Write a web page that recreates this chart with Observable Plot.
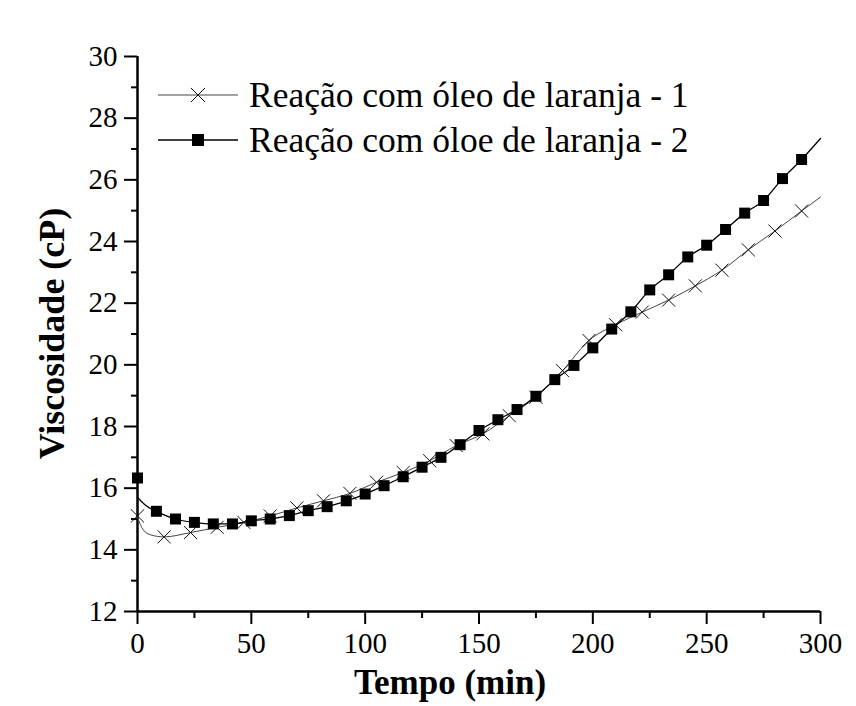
<!DOCTYPE html>
<html>
<head>
<meta charset="utf-8">
<script src="https://cdn.jsdelivr.net/npm/d3@7"></script>
<script src="https://cdn.jsdelivr.net/npm/@observablehq/plot@0.6"></script>
<style>
  html, body { margin: 0; padding: 0; background: #fff; }
  #wrap { position: relative; width: 856px; height: 706px; font-family: "Liberation Serif", "Times New Roman", serif; }
  #wrap svg, #wrap svg text { font-family: "Liberation Serif", "Times New Roman", serif !important; }
  #legend { position: absolute; left: 0; top: 0; pointer-events: none; }
</style>
</head>
<body>
<div id="wrap"></div>
<script>
// Series 1: "Reação com óleo de laranja - 1" (cross markers)
const s1Time = [0, 11.7, 23.3, 35, 46.7, 58.3, 70, 81.7, 93.3, 105, 116.7, 128.3, 140, 151.7, 163.3, 175, 186.7, 198.3, 210, 221.7, 233.3, 245, 256.7, 268.3, 280, 291.7];
const s1Visc = [15.1, 14.42, 14.56, 14.73, 14.89, 15.1, 15.36, 15.59, 15.83, 16.19, 16.51, 16.89, 17.38, 17.76, 18.35, 18.95, 19.81, 20.79, 21.3, 21.71, 22.1, 22.56, 23.07, 23.73, 24.34, 24.99];
// extra points of the series-1 curve (start dip and end)
const s1CurveTime = [0, 2.5, 6, 300];
const s1CurveVisc = [15.05, 14.65, 14.48, 25.44];

// Series 2: "Reação com óloe de laranja - 2" (square markers)
const s2Time = [0, 8.3, 16.7, 25, 33.3, 41.7, 50, 58.3, 66.7, 75, 83.3, 91.7, 100, 108.3, 116.7, 125, 133.3, 141.7, 150, 158.3, 166.7, 175, 183.3, 191.7, 200, 208.3, 216.7, 225, 233.3, 241.7, 250, 258.3, 266.7, 275, 283.3, 291.7];
const s2Visc = [16.33, 15.25, 15.0, 14.89, 14.84, 14.84, 14.94, 15.0, 15.11, 15.27, 15.4, 15.59, 15.81, 16.08, 16.37, 16.68, 17.0, 17.41, 17.87, 18.22, 18.55, 18.98, 19.52, 19.98, 20.55, 21.16, 21.72, 22.43, 22.92, 23.5, 23.88, 24.39, 24.92, 25.33, 26.04, 26.66];
// series-2 curve start and end (curve does not pass through first marker)
const s2CurveTime = [0, 4, 300];
const s2CurveVisc = [15.7, 15.42, 27.34];

const seriesNames = ["Reação com óleo de laranja - 1", "Reação com óloe de laranja - 2"];
const xTicks = [0, 50, 100, 150, 200, 250, 300];
const xMinor = [25, 75, 125, 175, 225, 275];
const yTicks = [12, 14, 16, 18, 20, 22, 24, 26, 28, 30];
const yMinor = [13, 15, 17, 19, 21, 23, 25, 27, 29];
const xLabel = "Tempo (min)";
const yLabel = "Viscosidade (cP)";

const m1 = s1Time.map((t, i) => ({t, v: s1Visc[i]}));
const m2 = s2Time.map((t, i) => ({t, v: s2Visc[i]}));
const c1 = m1.slice(1)
  .concat(s1CurveTime.map((t, i) => ({t, v: s1CurveVisc[i]})))
  .sort((a, b) => a.t - b.t);
const c2 = [{t: s2CurveTime[0], v: s2CurveVisc[0]}, {t: s2CurveTime[1], v: s2CurveVisc[1]}]
  .concat(m2.slice(1))
  .concat([{t: s2CurveTime[2], v: s2CurveVisc[2]}]);

const font = "Liberation Serif";

const plot = Plot.plot({
  width: 856,
  height: 706,
  marginLeft: 137,
  marginRight: 36,
  marginTop: 56,
  marginBottom: 95,
  style: {fontFamily: font, background: "transparent", color: "#000"},
  x: {domain: [0, 300]},
  y: {domain: [12, 30]},
  marks: [
    Plot.axisX({ticks: xTicks, tickSize: 13, tickPadding: 8, fontSize: 29, fontFamily: font, strokeWidth: 2, label: null, tickFormat: d3.format("d")}),
    Plot.axisX({ticks: xMinor, tickSize: 7, strokeWidth: 2, text: null, label: null}),
    Plot.axisY({ticks: yTicks, tickSize: 13, tickPadding: 7, fontSize: 29, fontFamily: font, strokeWidth: 2, label: null, tickFormat: d3.format("d")}),
    Plot.axisY({ticks: yMinor, tickSize: 6, strokeWidth: 2, text: null, label: null}),
    Plot.ruleY([12], {stroke: "#000", strokeWidth: 2.5}),
    Plot.ruleX([0], {stroke: "#000", strokeWidth: 2.5}),
    Plot.line(c1, {x: "t", y: "v", curve: "monotone-x", stroke: "#444", strokeWidth: 1}),
    Plot.line(c2, {x: "t", y: "v", curve: "monotone-x", stroke: "#000", strokeWidth: 1.3}),
    Plot.dot(m1, {x: "t", y: "v", symbol: "times", r: 6, stroke: "#111", strokeWidth: 1}),
    Plot.dot(m2, {x: "t", y: "v", symbol: "square", r: 6.2, fill: "#000", stroke: "none"})
  ]
});

const wrap = document.getElementById("wrap");
wrap.appendChild(plot);

// axis titles
const svg = d3.select(plot);
svg.append("text")
  .attr("x", 450).attr("y", 694)
  .attr("text-anchor", "middle")
  .attr("font-family", font).attr("font-weight", "bold").attr("font-size", 35)
  .attr("fill", "#000")
  .text(xLabel);
svg.append("text")
  .attr("transform", `translate(64,${(56 + 611) / 2}) rotate(-90)`)
  .attr("text-anchor", "middle")
  .attr("font-family", font).attr("font-weight", "bold").attr("font-size", 36)
  .attr("fill", "#000")
  .text(yLabel);

// legend (inside plot area, top-left)
const leg = d3.select(wrap).append("svg")
  .attr("id", "legend").attr("width", 856).attr("height", 706);
const rows = [
  {y: 95, stroke: "#444", sw: 1, sym: "times"},
  {y: 140, stroke: "#000", sw: 1.3, sym: "square"}
];
rows.forEach((r, i) => {
  leg.append("line").attr("x1", 158).attr("x2", 238).attr("y1", r.y).attr("y2", r.y)
    .attr("stroke", r.stroke).attr("stroke-width", r.sw);
  if (r.sym === "times") {
    leg.append("path").attr("d", d3.symbol(d3.symbolTimes, Math.PI * 6.5 * 6.5)())
      .attr("transform", `translate(198,${r.y})`).attr("stroke", "#111").attr("fill", "none").attr("stroke-width", 1);
  } else {
    leg.append("path").attr("d", d3.symbol(d3.symbolSquare, Math.PI * 6.8 * 6.8)())
      .attr("transform", `translate(198,${r.y})`).attr("fill", "#000");
  }
  leg.append("text").attr("x", 249).attr("y", r.y + 11.5)
    .attr("font-family", font).attr("font-size", 35.5).attr("fill", "#000")
    .text(seriesNames[i]);
});
</script>
</body>
</html>
